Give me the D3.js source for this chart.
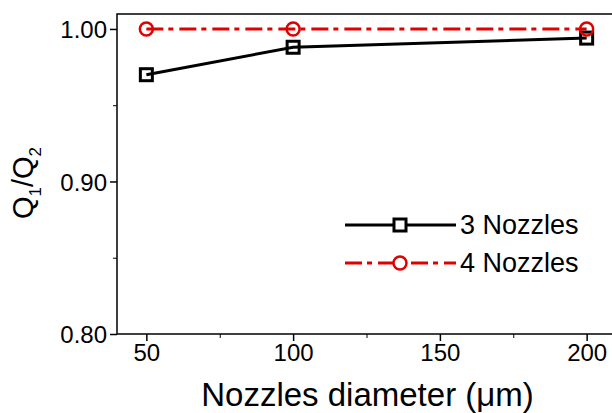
<!DOCTYPE html>
<html><head><meta charset="utf-8">
<script src="https://cdn.jsdelivr.net/npm/d3@7"></script>
<style>body{margin:0;background:#fff}svg{display:block;font-family:"Liberation Sans",Arial,sans-serif}</style>
</head><body>
<svg id="c" width="612" height="413"></svg>
<script>
const diameters = [50, 100, 200];
const nozzles3 = [0.970, 0.988, 0.994];
const nozzles4 = [1.000, 1.000, 1.000];
const seriesNames = ["3 Nozzles", "4 Nozzles"];
const xTicks = [50, 100, 150, 200];
const xMinor = [75, 125, 175];
const yTicks = [0.80, 0.90, 1.00];
const yMinor = [0.85, 0.95];

const svg = d3.select("#c");
const L = 117, R = 616, T = 14, B = 334;
const x = d3.scaleLinear().domain([40, 210]).range([L, R]);
const y = d3.scaleLinear().domain([0.80, 1.0098]).range([B, T]);
const red = "#e00000";
const FF = "Liberation Sans, Arial, sans-serif";

svg.append("rect").attr("x", L).attr("y", T).attr("width", R - L).attr("height", B - T)
  .attr("fill", "none").attr("stroke", "#000").attr("stroke-width", 1.5);

const gx = svg.append("g").attr("transform", `translate(0,${B})`)
  .call(d3.axisBottom(x).tickValues(xTicks).tickSize(7).tickPadding(3).tickFormat(d3.format("d")));
gx.select(".domain").remove();
gx.selectAll("line").attr("stroke-width", 1.5);
gx.selectAll("text").attr("font-size", 24).attr("fill", "#000").attr("font-family", FF);
const gxm = svg.append("g").attr("transform", `translate(0,${B})`)
  .call(d3.axisBottom(x).tickValues(xMinor).tickSize(4).tickFormat(""));
gxm.select(".domain").remove();
gxm.selectAll("line").attr("stroke-width", 1);

const gy = svg.append("g").attr("transform", `translate(${L},0)`)
  .call(d3.axisLeft(y).tickValues(yTicks).tickSize(7).tickPadding(3).tickFormat(d3.format(".2f")));
gy.select(".domain").remove();
gy.selectAll("line").attr("stroke-width", 1.5);
gy.selectAll("text").attr("font-size", 24).attr("fill", "#000").attr("dy", "0.36em").attr("font-family", FF);
const gym = svg.append("g").attr("transform", `translate(${L},0)`)
  .call(d3.axisLeft(y).tickValues(yMinor).tickSize(4).tickFormat(""));
gym.select(".domain").remove();
gym.selectAll("line").attr("stroke-width", 1);

svg.append("text").attr("x", (200 + 535) / 2).attr("y", 406).attr("text-anchor", "middle")
  .attr("font-size", 33).text("Nozzles diameter (μm)");
const yl = svg.append("text").attr("transform", "translate(33,183) rotate(-90)")
  .attr("text-anchor", "middle").attr("font-size", 29);
yl.append("tspan").text("Q");
yl.append("tspan").attr("font-size", 17).attr("dy", 8).text("1");
yl.append("tspan").attr("dy", -8).text("/Q");
yl.append("tspan").attr("font-size", 17).attr("dy", 8).text("2");

const line = d3.line().x(d => x(d[0])).y(d => y(d[1]));
const d3s = diameters.map((d, i) => [d, nozzles3[i]]);
const d4s = diameters.map((d, i) => [d, nozzles4[i]]);
const dash = "17,5,5,6";

svg.append("path").attr("d", line(d4s)).attr("fill", "none").attr("stroke", red)
  .attr("stroke-width", 3).attr("stroke-dasharray", dash);
svg.append("path").attr("d", line(d3s)).attr("fill", "none").attr("stroke", "#000")
  .attr("stroke-width", 3);

svg.selectAll(".sq").data(d3s).enter().append("rect")
  .attr("x", d => x(d[0]) - 6).attr("y", d => y(d[1]) - 6).attr("width", 12).attr("height", 12)
  .attr("fill", "none").attr("stroke", "#000").attr("stroke-width", 3);
svg.selectAll(".ci").data(d4s).enter().append("circle")
  .attr("cx", d => x(d[0])).attr("cy", d => y(d[1])).attr("r", 6.5)
  .attr("fill", "none").attr("stroke", red).attr("stroke-width", 2.5);

const lg = [{name: seriesNames[0], y: 225, color: "#000", dash: null, m: "sq"},
            {name: seriesNames[1], y: 263, color: red, dash: dash, m: "ci"}];
lg.forEach(l => {
  svg.append("line").attr("x1", 345).attr("x2", 456).attr("y1", l.y).attr("y2", l.y)
    .attr("stroke", l.color).attr("stroke-width", 3).attr("stroke-dasharray", l.dash);
  if (l.m === "sq") {
    svg.append("rect").attr("x", 400 - 6).attr("y", l.y - 6).attr("width", 12).attr("height", 12)
      .attr("fill", "#fff").attr("stroke", "#000").attr("stroke-width", 3);
  } else {
    svg.append("circle").attr("cx", 400).attr("cy", l.y).attr("r", 6.5)
      .attr("fill", "#fff").attr("stroke", red).attr("stroke-width", 2.5);
  }
  svg.append("text").attr("x", 460).attr("y", l.y + 9).attr("font-size", 27).text(l.name);
});
</script>
</body></html>
